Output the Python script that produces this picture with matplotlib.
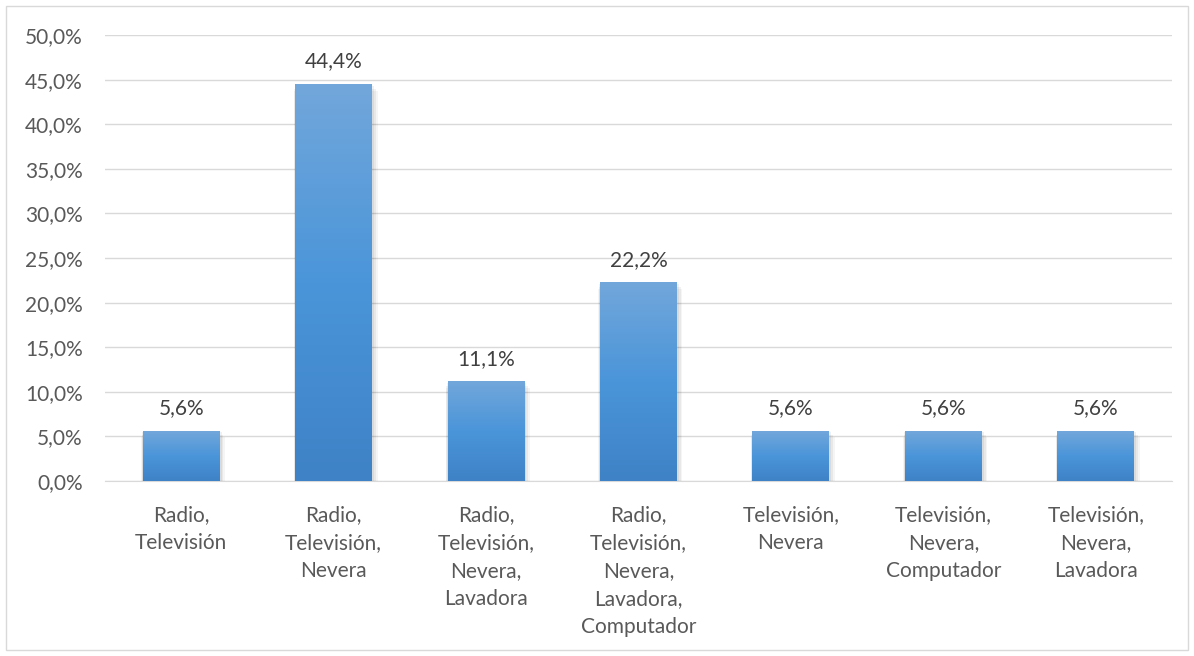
import matplotlib
matplotlib.use("Agg")
import matplotlib.pyplot as plt
import numpy as np
from matplotlib.patches import Rectangle
from matplotlib.colors import LinearSegmentedColormap

categories = ["Radio,\nTelevisión", "Radio,\nTelevisión,\nNevera", "Radio,\nTelevisión,\nNevera,\nLavadora",
              "Radio,\nTelevisión,\nNevera,\nLavadora,\nComputador", "Televisión,\nNevera",
              "Televisión,\nNevera,\nComputador", "Televisión,\nNevera,\nLavadora"]
values = [5.6, 44.4, 11.1, 22.2, 5.6, 5.6, 5.6]
yticks = [0, 5, 10, 15, 20, 25, 30, 35, 40, 45, 50]

plt.rcParams['font.family'] = ['Lato', 'DejaVu Sans']
txt = '#595959'
fs = 15

fig = plt.figure(figsize=(11.94, 6.56), dpi=100)
fig.patches.append(Rectangle((0.005, 0.009), 0.99, 0.982, transform=fig.transFigure,
                             fill=False, edgecolor='#D9D9D9', linewidth=1))
ax = fig.add_axes([105/1194, 1-481/656, 1067/1194, 446/656])
x = np.arange(len(values))
w = 0.505

cmap = LinearSegmentedColormap.from_list('g', ['#3F82C6', '#4A95D9', '#72A7DB'])
grad = np.linspace(0, 1, 256).reshape(-1, 1)
for xi, v in zip(x, values):
    for k, a in enumerate([0.06, 0.05, 0.04]):
        d = 0.012 * (k + 1)
        ax.add_patch(Rectangle((xi - w/2 - d*0.3, -0.25*(k+1)), w + d*1.3, v + 0.1, facecolor='black',
                               alpha=a, edgecolor='none', zorder=2))
    ax.imshow(grad, extent=(xi - w/2, xi + w/2, 0, v), origin='lower', cmap=cmap,
              aspect='auto', zorder=3)
    ax.text(xi, v + 1.5, f"{v:.1f}%".replace('.', ','), ha='center', va='bottom',
            fontsize=fs, color='#404040', zorder=4)
ax.set_xlim(-0.5, len(values)-0.5)
ax.set_ylim(0, 50)

ax.set_yticks(yticks)
ax.set_yticklabels([f"{t:.1f}%".replace('.', ',') for t in yticks], fontsize=fs, color=txt)
ax.set_xticks(x)
ax.set_xticklabels(categories, fontsize=fs, color=txt, linespacing=1.5, va='top')
ax.tick_params(axis='both', length=0)
ax.tick_params(axis='y', pad=16)
ax.tick_params(axis='x', pad=17)
ax.grid(axis='y', color='#D9D9D9', linewidth=1, zorder=0)
ax.set_axisbelow(True)
for s in ['left', 'right', 'top']:
    ax.spines[s].set_visible(False)
ax.spines['bottom'].set_color('#D9D9D9')
ax.spines['bottom'].set_zorder(1)

fig.savefig('out.png', dpi=100)
